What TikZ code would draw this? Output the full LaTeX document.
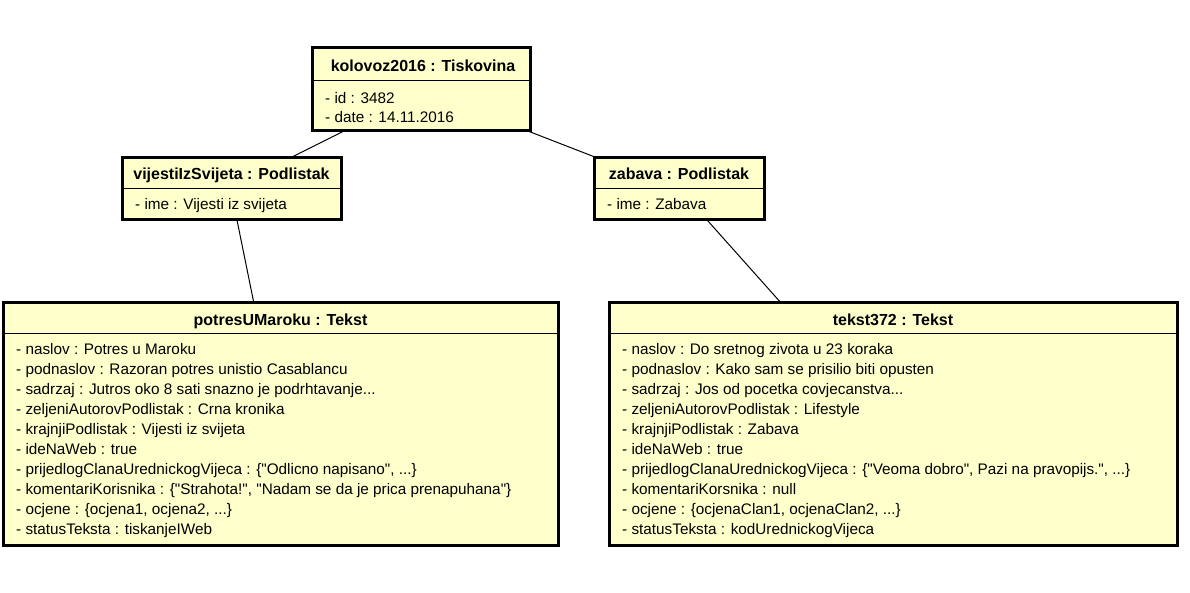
\documentclass[tikz,border=0pt]{standalone}
\usepackage{fontspec}
\setmainfont{Liberation Sans}
\newfontfamily\umlfont{Liberation Sans}
\usetikzlibrary{calc}
\definecolor{objfill}{HTML}{FFFFCC}
\tikzset{
  obj/.style={draw=black, line width=3pt, fill=objfill, anchor=north west, inner sep=0pt, outer sep=0pt},
  divline/.style={draw=black, line width=1pt},
  hdr/.style={anchor=base, inner sep=0pt, font=\umlfont\fontsize{16}{19}\selectfont\bfseries},
  attr/.style={anchor=base west, inner sep=0pt, font=\umlfont\fontsize{15.3}{20}\selectfont},
  conn/.style={draw=black, line width=1pt}
}
\begin{document}
\begin{tikzpicture}[x=1pt,y=-1pt]
\useasboundingbox (0,0) rectangle (1190,593);

% kolovoz2016
\node[obj, minimum width=218pt, minimum height=83pt] (k) at (312,48) {};
\draw[divline] (k.west |- 0,81) -- (k.east |- 0,81);
\node[hdr] (kh) at (423,72) {kolovoz2016 : Tiskovina};
\node[attr] (k1) at (325,104) {- id : 3482};
\node[attr] (k2) at (325,123) {- date : 14.11.2016};

% vijestiIzSvijeta
\node[obj, minimum width=219pt, minimum height=62pt] (v) at (122,158) {};
\draw[divline] (v.west |- 0,189) -- (v.east |- 0,189);
\node[hdr] (vh) at (231.5,180) {vijestiIzSvijeta : Podlistak};
\node[attr] (v1) at (135,210) {- ime : Vijesti iz svijeta};

% zabava
\node[obj, minimum width=170pt, minimum height=62pt] (z) at (594,158) {};
\draw[divline] (z.west |- 0,189) -- (z.east |- 0,189);
\node[hdr] (zh) at (679,180) {zabava : Podlistak};
\node[attr] (z1) at (607,210) {- ime : Zabava};

% potresUMaroku
\node[obj, minimum width=555pt, minimum height=242pt] (p) at (3,303) {};
\draw[divline] (p.west |- 0,333) -- (p.east |- 0,333);
\node[hdr] (ph) at (280.5,325) {potresUMaroku : Tekst};
\node[attr] (p1) at (16,354) {- naslov : Potres u Maroku};
\node[attr] (p2) at (16,374) {- podnaslov : Razoran potres unistio Casablancu};
\node[attr] (p3) at (16,394) {- sadrzaj : Jutros oko 8 sati snazno je podrhtavanje...};
\node[attr] (p4) at (16,414) {- zeljeniAutorovPodlistak : Crna kronika};
\node[attr] (p5) at (16,434) {- krajnjiPodlistak : Vijesti iz svijeta};
\node[attr] (p6) at (16,454) {- ideNaWeb : true};
\node[attr] (p7) at (16,474) {- prijedlogClanaUrednickogVijeca : \{"Odlicno napisano", ...\}};
\node[attr] (p8) at (16,494) {- komentariKorisnika : \{"Strahota!", "Nadam se da je prica prenapuhana"\}};
\node[attr] (p9) at (16,514) {- ocjene : \{ocjena1, ocjena2, ...\}};
\node[attr] (p10) at (16,534) {- statusTeksta : tiskanjeIWeb};

% tekst372
\node[obj, minimum width=568pt, minimum height=242pt] (t) at (609,303) {};
\draw[divline] (t.west |- 0,333) -- (t.east |- 0,333);
\node[hdr] (th) at (893,325) {tekst372 : Tekst};
\node[attr] (t1) at (622,354) {- naslov : Do sretnog zivota u 23 koraka};
\node[attr] (t2) at (622,374) {- podnaslov : Kako sam se prisilio biti opusten};
\node[attr] (t3) at (622,394) {- sadrzaj : Jos od pocetka covjecanstva...};
\node[attr] (t4) at (622,414) {- zeljeniAutorovPodlistak : Lifestyle};
\node[attr] (t5) at (622,434) {- krajnjiPodlistak : Zabava};
\node[attr] (t6) at (622,454) {- ideNaWeb : true};
\node[attr] (t7) at (622,474) {- prijedlogClanaUrednickogVijeca : \{"Veoma dobro", Pazi na pravopijs.", ...\}};
\node[attr] (t8) at (622,494) {- komentariKorsnika : null};
\node[attr] (t9) at (622,514) {- ocjene : \{ocjenaClan1, ocjenaClan2, ...\}};
\node[attr] (t10) at (622,534) {- statusTeksta : kodUrednickogVijeca};

% connectors
\draw[conn] ($(k.south west)!0.147!(k.south east)$) -- ($(v.north west)!0.767!(v.north east)$);
\draw[conn] ($(k.south west)!0.99!(k.south east)$) -- ($(z.north west)!0.02!(z.north east)$);
\draw[conn] ($(v.south west)!0.525!(v.south east)$) -- ($(p.north west)!0.452!(p.north east)$);
\draw[conn] ($(z.south west)!0.665!(z.south east)$) -- ($(t.north west)!0.303!(t.north east)$);
\end{tikzpicture}
\end{document}
